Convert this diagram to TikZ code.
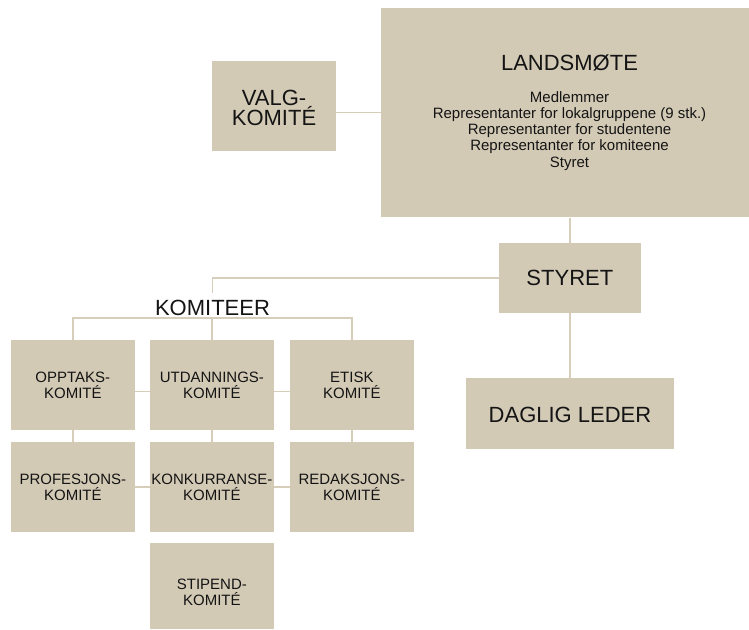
\documentclass[tikz,border=0pt]{standalone}
\usepackage{fontspec}
\setmainfont{Liberation Sans}
\definecolor{boxfill}{HTML}{D3CAB6}
\definecolor{linecol}{HTML}{D6CDBA}
\definecolor{txtcol}{HTML}{141414}
\begin{document}
\begin{tikzpicture}[x=1pt,y=-1pt,
  box/.style={fill=boxfill, draw=none, inner sep=0pt, align=center, text=txtcol},
  smalltext/.style={font=\fontsize{15}{16}\selectfont},
  bigtext/.style={font=\fontsize{22}{19.6}\selectfont},
  conn/.style={draw=linecol, line width=1.5pt},
  kbox/.style={box, smalltext, minimum width=123.7pt, minimum height=90pt}]
\path[use as bounding box] (0,0) rectangle (749,629);
\clip (0,0) rectangle (749,629);

% top level
\node[box, bigtext, minimum width=124pt, minimum height=89.7pt] (valg) at (274,105.9)
  {\rule{0pt}{19.75pt}VALG-\\KOMITÉ};
\node[box, minimum width=368pt, minimum height=209.6pt] (lands) at (565,112.5) {};
\node[inner sep=0pt, align=center, text=txtcol, font=\fontsize{15}{16.25}\selectfont] (landstext) at (569.5,112.5)
  {{\fontsize{22}{22}\selectfont LANDSMØTE}\\[15.5pt]
   Medlemmer\\
   Representanter for lokalgruppene (9 stk.)\\
   Representanter for studentene\\
   Representanter for komiteene\\
   Styret};
\node[box, bigtext, minimum width=141.7pt, minimum height=69.7pt] (styret) at (569.85,277.85) {STYRET};
\node[box, bigtext, minimum width=208pt, minimum height=70.7pt] (daglig) at (570,413.3)
  {\rule{0pt}{19pt}DAGLIG LEDER};
\node[anchor=base, inner sep=0pt, text=txtcol, font=\fontsize{22}{22}\selectfont] (komiteer) at (212.5,315) {KOMITEER};

% committees
\node[kbox] (opptak) at (72.85,385) {OPPTAKS-\\KOMITÉ};
\node[kbox] (utd) at (211.85,385) {UTDANNINGS-\\KOMITÉ};
\node[kbox] (etisk) at (351.85,385) {ETISK\\KOMITÉ};
\node[kbox] (profesjon) at (72.85,487) {PROFESJONS-\\KOMITÉ};
\node[kbox] (konk) at (211.85,487) {KONKURRANSE-\\KOMITÉ};
\node[kbox] (redak) at (351.85,487) {REDAKSJONS-\\KOMITÉ};
\node[kbox, minimum height=86pt] (stipend) at (211.85,586) {\rule{0pt}{24pt}STIPEND-\\KOMITÉ};

% connectors
\draw[conn] (lands.west) -- (lands.west -| valg.east);
\draw[conn] (styret.north) -- (styret.north |- lands.south);
\draw[conn] (styret.south) -- (styret.south |- daglig.north);
\draw[conn] (styret.west) -| ([yshift=6pt]komiteer.north);
\draw[conn] (opptak.north) -- ++(0,-22) -| (etisk.north);
\draw[conn] (utd.north) -- ++(0,-22);
\draw[conn] (opptak) -- (profesjon);
\draw[conn] (utd) -- (konk);
\draw[conn] (etisk) -- (redak);
\draw[conn] ([yshift=-6.7pt]opptak.east) -- ([yshift=-6.7pt]utd.west);
\draw[conn] ([yshift=-6.7pt]utd.east) -- ([yshift=-6.7pt]etisk.west);
\draw[conn] (profesjon) -- (konk);
\draw[conn] (konk) -- (redak);
\end{tikzpicture}
\end{document}
